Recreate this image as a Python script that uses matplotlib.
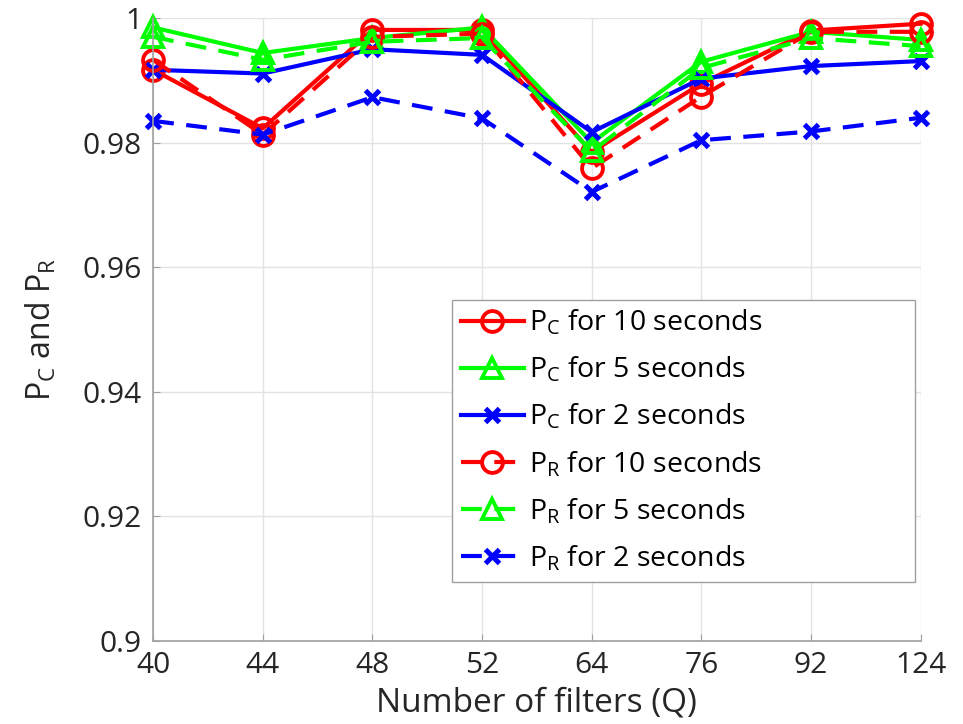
import matplotlib
matplotlib.use("Agg")
import matplotlib.pyplot as plt
import numpy as np
from matplotlib.ticker import FuncFormatter

plt.rcParams['font.family'] = ['Open Sans', 'DejaVu Sans']
plt.rcParams['mathtext.fontset'] = 'custom'
plt.rcParams['mathtext.rm'] = 'Open Sans'
plt.rcParams['mathtext.it'] = 'Open Sans'

# Filter bank sizes
filters = ["40", "44", "48", "52", "64", "76", "92", "124"]

# Correct-classification probability P_C
pc_10s = [0.9917, 0.9823, 0.9981, 0.9981, 0.9785, 0.9895, 0.9980, 0.9991]
pc_5s = [0.9985, 0.9944, 0.9968, 0.9985, 0.9800, 0.9930, 0.9978, 0.9965]
pc_2s = [0.9917, 0.9911, 0.9950, 0.9941, 0.9817, 0.9903, 0.9923, 0.9931]

# Recognition probability P_R
pr_10s = [0.9933, 0.9813, 0.9970, 0.9975, 0.9759, 0.9874, 0.9978, 0.9978]
pr_5s = [0.9970, 0.9933, 0.9962, 0.9968, 0.9786, 0.9920, 0.9968, 0.9955]
pr_2s = [0.9835, 0.9813, 0.9873, 0.9839, 0.9721, 0.9804, 0.9818, 0.9840]

fig = plt.figure(figsize=(9.63, 7.24), dpi=100)
ax = fig.add_axes([0.159, 0.1146, 0.797, 0.8604])

x = np.arange(len(filters))
lw = 3.0
dash = (5, 3)

series = [
    (pc_10s, 'red', 'o', '-', r'$\mathregular{P_C}$ for 10 seconds'),
    (pc_5s, '#00ff00', '^', '-', r'$\mathregular{P_C}$ for 5 seconds'),
    (pc_2s, 'blue', 'x', '-', r'$\mathregular{P_C}$ for 2 seconds'),
    (pr_10s, 'red', 'o', '--', r'$\mathregular{P_R}$ for 10 seconds'),
    (pr_5s, '#00ff00', '^', '--', r'$\mathregular{P_R}$ for 5 seconds'),
    (pr_2s, 'blue', 'x', '--', r'$\mathregular{P_R}$ for 2 seconds'),
]

for vals, color, marker, ls, label in series:
    ms = 10 if marker == 'x' else 15
    mew = 3.6 if marker == 'x' else 2.8
    line, = ax.plot(x, vals, color=color, linestyle=ls, linewidth=lw,
                    marker=marker, markersize=ms, markerfacecolor='none',
                    markeredgecolor=color, markeredgewidth=mew, label=label,
                    clip_on=False)
    if ls == '--':
        line.set_dashes(dash)

ax.set_xlim(0, len(filters) - 1)
ax.set_ylim(0.9, 1.0)
ax.set_xticks(x)
ax.set_xticklabels(filters)
ax.set_yticks(np.arange(0.9, 1.0001, 0.02))
ax.yaxis.set_major_formatter(FuncFormatter(lambda v, p: f"{v:.2f}".rstrip('0').rstrip('.')))

ax.grid(True, color='#e3e3e3', linewidth=1.0)
ax.set_axisbelow(True)
for s in ['top', 'right']:
    ax.spines[s].set_visible(False)
for s in ['left', 'bottom']:
    ax.spines[s].set_color('#a0a0a0')
    ax.spines[s].set_linewidth(1.2)

ax.tick_params(axis='both', direction='in', length=5, color='#a0a0a0',
               labelsize=21.5, labelcolor='#262626')
ax.tick_params(axis='y', pad=8)
ax.tick_params(axis='x', pad=7)

ax.set_xlabel('Number of filters (Q)', fontsize=24, color='#262626', labelpad=5)
ax.set_ylabel(r'$\mathregular{P_C}$ and $\mathregular{P_R}$', fontsize=23,
              color='#262626', labelpad=17)

leg = ax.legend(loc='lower left', bbox_to_anchor=(0.39, 0.095, 0.603, 0.4),
                mode='expand', fontsize=20.5,
                frameon=True, fancybox=False, framealpha=1, edgecolor='#a0a0a0',
                handlelength=2.2, handletextpad=0.2, borderpad=0.3,
                labelspacing=0.62, borderaxespad=0)
leg.get_frame().set_linewidth(1.0)

fig.savefig('out.png', dpi=100)
